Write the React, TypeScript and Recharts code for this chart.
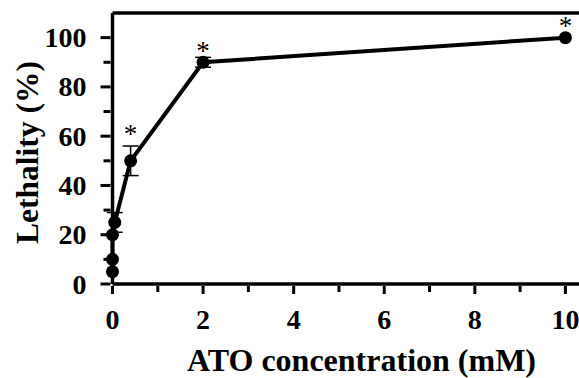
import React from 'react';
import { ComposedChart, Line, Scatter, XAxis, YAxis, ErrorBar, ReferenceLine, Label } from 'recharts';

const concentration = [0, 0, 0, 0.05, 0.4, 2, 10];
const lethality = [5, 10, 20, 25, 50, 90, 100];
const lethalityErr = [0, 0, 0, 4, 6, 2, 0];
const starX = [0.4, 2, 10];
const starY = [62.5, 96, 106.5];
const xTicks = [0, 1, 2, 3, 4, 5, 6, 7, 8, 9, 10];
const yTicks = [0, 10, 20, 30, 40, 50, 60, 70, 80, 90, 100];
const xDomainMax = 10.3;
const yDomainMax = 110;
const xTitle = 'ATO concentration (mM)';
const yTitle = 'Lethality (%)';

const FONT = '"Liberation Serif", "Times New Roman", serif';

const points = concentration.map((x, i) => ({ x, y: lethality[i], err: lethalityErr[i] }));
const stars = starX.map((x, i) => ({ x, y: starY[i] }));

const XTick = (props: any) => {
  const { x, y, payload } = props;
  const major = payload.value % 2 === 0;
  return (
    <g>
      <line x1={x} x2={x} y1={y} y2={y + (major ? 8 : 6)} stroke="#000" strokeWidth={3} />
      {major && (
        <text x={x} y={y + 43} textAnchor="middle" fontFamily={FONT} fontWeight="bold" fontSize={28} fill="#000">
          {payload.value}
        </text>
      )}
    </g>
  );
};

const YTick = (props: any) => {
  const { x, y, payload } = props;
  const major = payload.value % 20 === 0;
  return (
    <g>
      <line x1={x - (major ? 10 : 7)} x2={x} y1={y} y2={y} stroke="#000" strokeWidth={3} />
      {major && (
        <text x={x - 24} y={y + 9.5} textAnchor="end" fontFamily={FONT} fontWeight="bold" fontSize={28} fill="#000">
          {payload.value}
        </text>
      )}
    </g>
  );
};

const XTitle = (props: any) => {
  const vb = props.viewBox || {};
  return (
    <text x={vb.x + 249} y={vb.y + 87} textAnchor="middle" fontFamily={FONT} fontWeight="bold" fontSize={32} fill="#000">
      {xTitle}
    </text>
  );
};

const YTitle = (props: any) => {
  const vb = props.viewBox || {};
  const cx = vb.x + 37.5;
  const cy = vb.y + vb.height / 2 + 4;
  return (
    <text x={cx} y={cy} transform={`rotate(-90, ${cx}, ${cy})`} textAnchor="middle" fontFamily={FONT} fontWeight="bold" fontSize={31.5} fill="#000">
      {yTitle}
    </text>
  );
};

const StarShape = (props: any) => {
  const { cx, cy } = props;
  return (
    <text x={cx} y={cy + 13} textAnchor="middle" fontFamily={FONT} fontSize={27} fill="#000">
      *
    </text>
  );
};

export default function App() {
  return (
    <div style={{ position: 'absolute', left: 0, top: 0, width: 579, height: 378, background: '#fff' }}>
      <ComposedChart width={579} height={378} data={points} margin={{ top: 13, right: 0, bottom: 0, left: 0 }}>
        <XAxis
          type="number"
          dataKey="x"
          domain={[0, xDomainMax]}
          ticks={xTicks}
          interval={0}
          tickSize={0}
          tickLine={false}
          tick={<XTick />}
          axisLine={{ stroke: '#000', strokeWidth: 3.5 }}
          height={94}
        >
          <Label content={<XTitle />} />
        </XAxis>
        <YAxis
          type="number"
          domain={[0, yDomainMax]}
          ticks={yTicks}
          interval={0}
          tickSize={0}
          tickLine={false}
          tick={<YTick />}
          axisLine={{ stroke: '#000', strokeWidth: 3.5 }}
          width={112.5}
        >
          <Label content={<YTitle />} />
        </YAxis>
        <ReferenceLine y={yDomainMax} stroke="#000" strokeWidth={3.5} />
        <Line
          type="linear"
          dataKey="y"
          stroke="#000"
          strokeWidth={4}
          dot={{ r: 6.5, fill: '#000', stroke: 'none' }}
          activeDot={false}
          isAnimationActive={false}
        >
          <ErrorBar dataKey="err" width={8} stroke="#000" strokeWidth={1.5} direction="y" isAnimationActive={false} />
        </Line>
        <Scatter data={stars} dataKey="y" shape={<StarShape />} isAnimationActive={false} />
      </ComposedChart>
    </div>
  );
}
